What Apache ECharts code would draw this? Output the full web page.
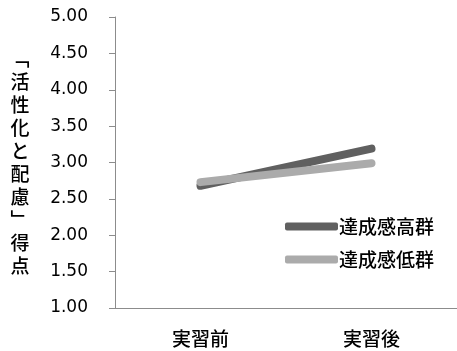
<!DOCTYPE html>
<html>
<head>
<meta charset="utf-8">
<script src="https://cdn.jsdelivr.net/npm/echarts@6/dist/echarts.min.js"></script>
<style>
  html, body { margin: 0; padding: 0; background: #fff; }
  #chart { width: 457px; height: 351px; }
</style>
</head>
<body>
<div id="chart"></div>
<script>
// Phases of the practicum
const categories = ['実習前', '実習後'];
// Mean scores per group
const seriesNames = ['達成感高群', '達成感低群'];
const highGroup = [2.68, 3.19];
const lowGroup = [2.73, 2.99];
// Y-axis range
const yMin = 1.0, yMax = 5.0, yStep = 0.5;
const yAxisTitle = '﹁活性化と配慮﹂得点';

const cjk = '"Noto Sans CJK JP", "Noto Sans", sans-serif';
const chart = echarts.init(document.getElementById('chart'));
chart.setOption({
  animation: false,
  backgroundColor: '#ffffff',
  grid: { left: 115, top: 17, right: -3, bottom: 43, containLabel: false },
  legend: {
    orient: 'vertical',
    left: 280,
    top: 212,
    icon: 'roundRect',
    itemWidth: 53,
    itemHeight: 8,
    itemGap: 14,
    textStyle: { fontFamily: cjk, fontSize: 19, fontWeight: 500, color: '#000', padding: [0, 0, 0, -4] },
    data: seriesNames
  },
  xAxis: {
    type: 'category',
    data: categories,
    boundaryGap: true,
    axisLine: { lineStyle: { color: '#8c8c8c', width: 1 } },
    axisTick: { show: false },
    axisLabel: { fontFamily: cjk, fontSize: 19, fontWeight: 500, color: '#000', margin: 21 }
  },
  yAxis: {
    type: 'value',
    min: yMin,
    max: yMax,
    interval: yStep,
    name: Array.from(yAxisTitle).join('\n'),
    nameLocation: 'middle',
    nameRotate: 0,
    nameGap: 95,
    nameTextStyle: {
      fontFamily: cjk, fontSize: 19, fontWeight: 500, lineHeight: 23, color: '#000',
      align: 'center', verticalAlign: 'middle', padding: [0, 0, 14, 0]
    },
    splitLine: { show: false },
    axisLine: { show: true, lineStyle: { color: '#8c8c8c', width: 1 } },
    axisTick: { show: true, length: 6, lineStyle: { color: '#8c8c8c' } },
    axisLabel: {
      fontFamily: '"DejaVu Sans", sans-serif',
      fontSize: 17,
      color: '#000',
      margin: 27,
      formatter: v => v.toFixed(2)
    }
  },
  series: [
    {
      name: seriesNames[0],
      type: 'line',
      data: highGroup,
      symbol: 'none',
      itemStyle: { color: '#606060' },
      lineStyle: { color: '#606060', width: 8, cap: 'round' }
    },
    {
      name: seriesNames[1],
      type: 'line',
      data: lowGroup,
      symbol: 'none',
      itemStyle: { color: '#ababab' },
      lineStyle: { color: '#ababab', width: 8, cap: 'round' }
    }
  ]
});
</script>
</body>
</html>
